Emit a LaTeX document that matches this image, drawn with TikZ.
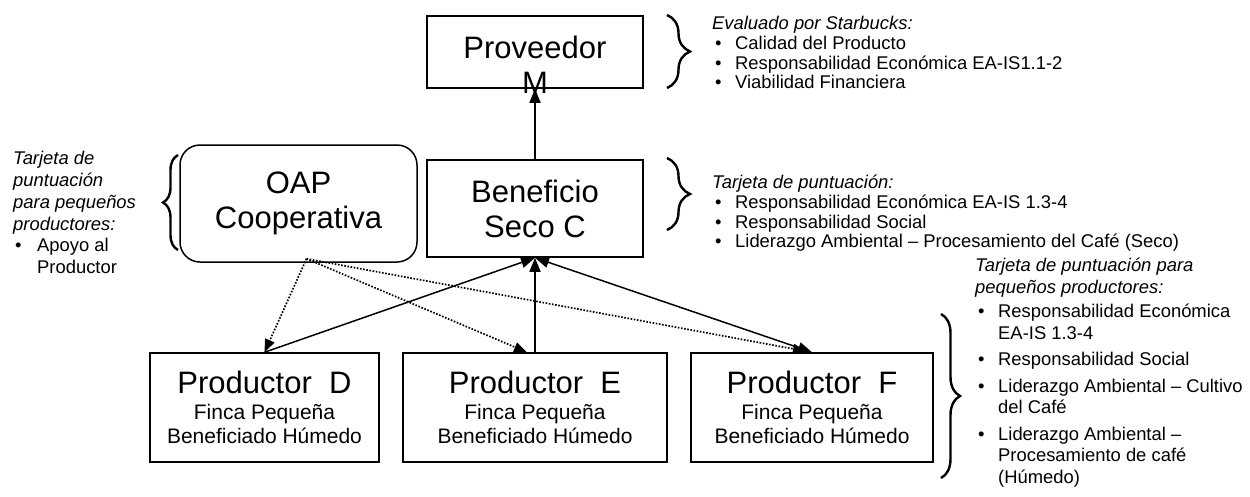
\documentclass[tikz,border=0pt]{standalone}
\usepackage{fontspec}
\setmainfont{Liberation Sans}
\usetikzlibrary{arrows.meta,decorations.pathreplacing,calc}
\newcommand\myfs[2]{\fontsize{#1}{#2}\selectfont}
\newcommand\bul{\makebox[23pt][l]{\hspace{3pt}\textbullet}}
\newcommand\hd[1]{\multicolumn{2}{@{}l@{}}{\itshape #1}}
\begin{document}
\begin{tikzpicture}[x=1pt,y=-1pt,
  box/.style={draw,line width=1.5pt,inner sep=0pt,align=center},
  bigtext/.style={font=\myfs{31}{35}},
  prod/.style={box,minimum height=109pt,font=\myfs{21}{24}},
  conn/.style={line width=1.5pt,-{Triangle[length=14pt,width=11pt]}},
  dblconn/.style={line width=1.5pt,{Triangle[length=14pt,width=11pt]}-{Triangle[length=14pt,width=11pt]}},
  dots/.style={line width=1.7pt,dash pattern=on 1.6pt off 1.6pt,-{Triangle[length=13pt,width=10pt]}},
  brc/.style={decorate,decoration={brace,amplitude=#1},line width=2.4pt},
  note/.style={anchor=north west,inner sep=0pt,align=left},
]
\useasboundingbox (0,0) rectangle (1250,496);

% boxes
\node[box,minimum width=216pt,minimum height=72pt] (prov) at (535,52) {};
\node[bigtext,inner sep=0pt,align=center] (provt) at (535,65) {Proveedor\\M};
\node[box,bigtext,minimum width=216pt,minimum height=97pt] (ben) at (535,208.5) {Beneficio\\Seco C};
\node[box,bigtext,rounded corners=20pt,minimum width=237pt,minimum height=117pt] (oap) at (298.5,203.5) {OAP\\Cooperativa};

\node[prod,minimum width=229pt] (d) at (264.5,407.5) {{\myfs{31}{35}Productor\ \ D}\\[2.3pt]Finca Pequeña\\Beneficiado Húmedo};
\node[prod,minimum width=264pt] (e) at (535,407.5) {{\myfs{31}{35}Productor\ \ E}\\[2.3pt]Finca Pequeña\\Beneficiado Húmedo};
\node[prod,minimum width=242pt] (f) at (812,407.5) {{\myfs{31}{35}Productor\ \ F}\\[2.3pt]Finca Pequeña\\Beneficiado Húmedo};

% connectors
\draw[conn] (ben.north) -- (prov.south);
\draw[conn] (d.north) -- (ben.south);
\draw[conn] (e.north) -- (ben.south);
\draw[dblconn] (f.north) -- (ben.south);

\coordinate (src) at ($(oap.south)+(8,-4)$);
\draw[dots] (src) -- (d.north);
\draw[dots] (src) -- ($(e.north)+(-8,0)$);
\draw[dots] (src) -- ($(f.north)+(-6,-1)$);

% braces
\draw[brc=23pt] (667,15) -- (667,88);
\draw[brc=23pt] (667,158) -- (667,230);
\draw[brc=15pt] (178,250) -- (178,155);
\draw[brc=19pt] (941,314) -- (941,478);

% notes
\node[note,font=\myfs{18.4}{19.7}] (n1) at (712,15.8) {\begin{tabular}{@{}l@{}l@{}}
\hd{Evaluado por Starbucks:}\\
\bul & Calidad del Producto\\
\bul & Responsabilidad Económica EA-IS1.1-2\\
\bul & Viabilidad Financiera
\end{tabular}};

\node[note,font=\myfs{18.4}{19.7}] (n2) at (712,174.8) {\begin{tabular}{@{}l@{}l@{}}
\hd{Tarjeta de puntuación:}\\
\bul & Responsabilidad Económica EA-IS 1.3-4\\
\bul & Responsabilidad Social\\
\bul & Liderazgo Ambiental – Procesamiento del Café (Seco)
\end{tabular}};

\node[note,font=\myfs{18.4}{21.8}] (n3) at (13,149.3) {\begin{tabular}{@{}l@{}l@{}}
\hd{Tarjeta de}\\
\hd{puntuación}\\
\hd{para pequeños}\\
\hd{productores:}\\
\makebox[24pt][l]{\hspace{2pt}\textbullet} & Apoyo al\\
 & Productor
\end{tabular}};

\node[note,font=\myfs{18.4}{21.5}] (n4) at (975,256.5) {\begin{tabular}{@{}l@{}l@{}}
\hd{Tarjeta de puntuación para}\\
\hd{pequeños productores:}\\[3pt]
\bul & Responsabilidad Económica\\
 & EA-IS 1.3-4\\[5pt]
\bul & Responsabilidad Social\\[5pt]
\bul & Liderazgo Ambiental – Cultivo\\
 & del Café\\[5pt]
\bul & Liderazgo Ambiental –\\
 & Procesamiento de café\\
 & (Húmedo)
\end{tabular}};
\end{tikzpicture}
\end{document}
